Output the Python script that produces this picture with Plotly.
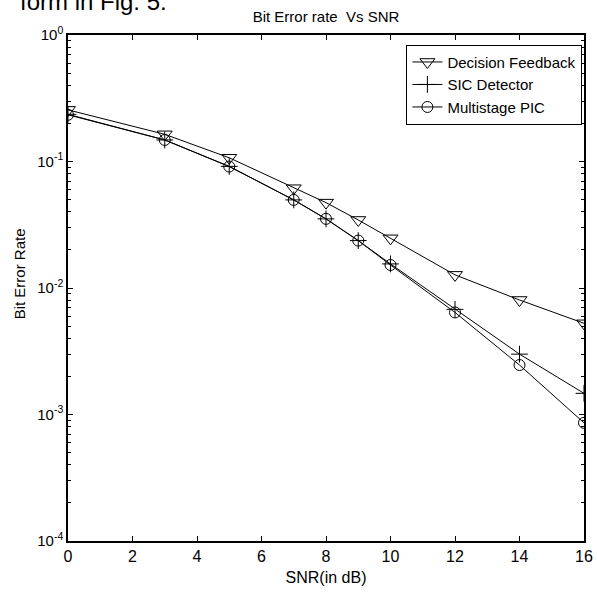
import plotly.graph_objects as go

snr = [0, 3, 5, 7, 8, 9, 10, 12, 14, 16]
ber_dfe = [0.256, 0.164, 0.107, 0.0615, 0.0473, 0.0345, 0.0247, 0.0127, 0.00804, 0.00526]
ber_sic = [0.236, 0.148, 0.0915, 0.0497, 0.0352, 0.0237, 0.0155, 0.00678, 0.00300, 0.00147]
ber_pic = [0.234, 0.148, 0.0912, 0.0497, 0.0352, 0.0237, 0.0152, 0.00641, 0.00246, 0.000859]

x_ticks = [0, 2, 4, 6, 8, 10, 12, 14, 16]
y_ticks = [1e-4, 1e-3, 1e-2, 1e-1, 1e0]
y_ticktext = ["10<sup>-4</sup>", "10<sup>-3</sup>", "10<sup>-2</sup>", "10<sup>-1</sup>", "10<sup>0</sup>"]
y_minor = [m * d for d in [1e-4, 1e-3, 1e-2, 1e-1] for m in range(2, 10)]

FONT = "Liberation Sans, Arial, sans-serif"

fig = go.Figure()
fig.add_trace(go.Scatter(x=snr, y=ber_dfe, mode="lines+markers", name="Decision Feedback",
                         line=dict(color="black", width=1),
                         marker=dict(symbol="triangle-down-open", size=13, color="black",
                                     line=dict(width=1, color="black"))))
fig.add_trace(go.Scatter(x=snr, y=ber_sic, mode="lines+markers", name="SIC Detector",
                         line=dict(color="black", width=1),
                         marker=dict(symbol="cross-thin", size=12, color="black",
                                     line=dict(width=1, color="black"))))
fig.add_trace(go.Scatter(x=snr, y=ber_pic, mode="lines+markers", name="Multistage PIC",
                         line=dict(color="black", width=1),
                         marker=dict(symbol="circle-open", size=11, color="black",
                                     line=dict(width=1, color="black"))))

W = 597
L, R, T, B = 67.7, 584.3, 35.3, 540.7

fig.update_layout(
    width=W, height=W, autosize=False,
    margin=dict(l=L, r=W - R, t=T, b=W - B, pad=0, autoexpand=False),
    paper_bgcolor="white", plot_bgcolor="white",
    font=dict(family=FONT, color="black", size=15),
    showlegend=True,
    legend=dict(x=(582.7 - L) / (R - L), y=(B - 45) / (B - T), xanchor="right", yanchor="top",
                bordercolor="black", borderwidth=1, bgcolor="white",
                font=dict(family=FONT, size=15, color="black"),
                itemwidth=30, entrywidth=148, entrywidthmode="pixels"),
    title=dict(text="Bit Error rate  Vs SNR", x=(L + R) / 2 / W, xanchor="center",
               y=1 - 17 / W, yanchor="middle", font=dict(family=FONT, size=15, color="black")),
)

fig.update_xaxes(range=[0, 16], tickvals=x_ticks, ticktext=[str(v) for v in x_ticks],
                 automargin=False,
                 showline=True, linecolor="black", linewidth=1.5, mirror="allticks",
                 ticks="inside", ticklen=5, tickcolor="black", showgrid=False, zeroline=False,
                 tickfont=dict(family=FONT, size=16),
                 title=dict(text="SNR(in dB)", font=dict(family=FONT, size=16), standoff=8))
fig.update_yaxes(type="log", range=[-4, 0], tickvals=y_ticks, ticktext=y_ticktext,
                 automargin=False,
                 showline=True, linecolor="black", linewidth=1.5, mirror="allticks",
                 ticks="inside", ticklen=5, tickcolor="black", showgrid=False, zeroline=False,
                 minor=dict(tickmode="array", tickvals=y_minor, ticks="inside", ticklen=3,
                            tickcolor="black", showgrid=False),
                 tickfont=dict(family=FONT, size=15))

fig.add_annotation(text="Bit Error Rate", textangle=-90, xref="paper", yref="paper",
                   x=(20 - L) / (R - L), y=(B - 274) / (B - T), xanchor="center", yanchor="middle",
                   showarrow=False, font=dict(family=FONT, size=15, color="black"))
fig.add_annotation(text="form in Fig. 5.", xref="paper", yref="paper",
                   x=(18 - L) / (R - L), y=(B - 17) / (B - T), xanchor="left", yanchor="bottom",
                   showarrow=False, font=dict(family=FONT, size=24, color="black"))

fig.write_html("out.html",
               config={"displayModeBar": False, "responsive": False},
               post_script="document.body.style.margin='0';document.body.style.overflow='hidden';")
